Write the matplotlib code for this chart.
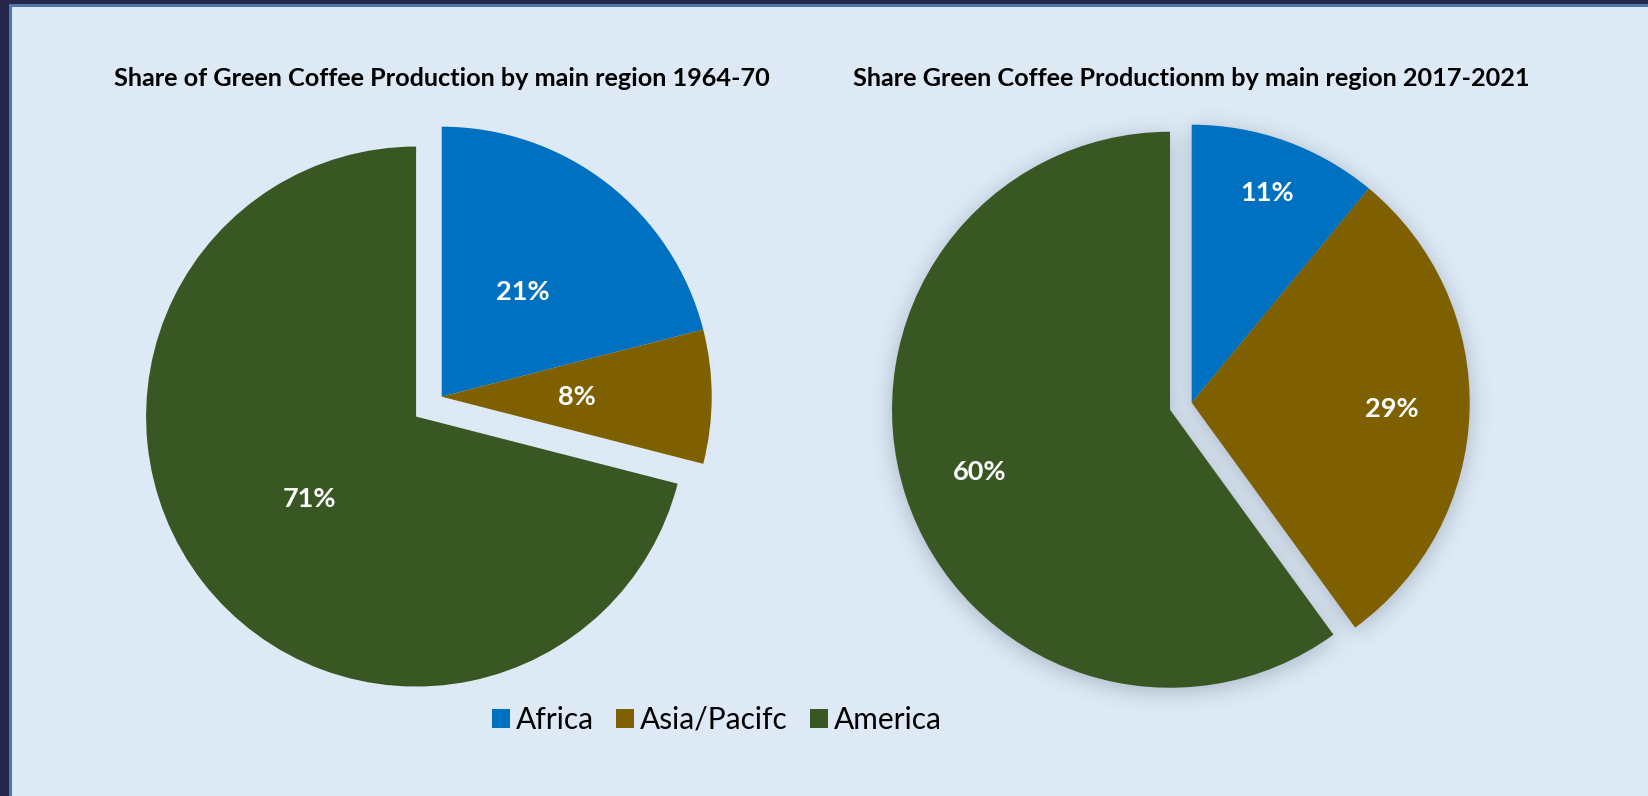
import numpy as np
import matplotlib.pyplot as plt
from matplotlib.patches import Patch, Rectangle

regions = ['Africa', 'Asia/Pacifc', 'America']
colors = ['#0070C0', '#7F6000', '#385723']

share_1964 = [21, 8, 71]
share_2017 = [11, 29, 60]

title_1964 = 'Share of Green Coffee Production by main region 1964-70'
title_2017 = 'Share Green Coffee Productionm by main region 2017-2021'

W, H = 1649, 796
bg = '#DDE9F5'

plt.rcParams['font.family'] = ['Lato', 'DejaVu Sans']

fig = plt.figure(figsize=(W / 100, H / 100), dpi=100)
fig.patch.set_facecolor(bg)

# full-figure axes in pixel units for the frame and the drop shadow
back = fig.add_axes([0, 0, 1, 1], zorder=-1)
back.set_xlim(0, W)
back.set_ylim(0, H)
back.axis('off')
back.add_patch(Rectangle((0, 0), 9, H, color='#25264A', lw=0))
back.add_patch(Rectangle((0, H - 4), W, 4, color='#25264A', lw=0))
back.add_patch(Rectangle((9, 0), 3, H - 4, color='#4B79AD', lw=0))
back.add_patch(Rectangle((9, H - 7), W - 9, 3, color='#4B79AD', lw=0))


def pie_axes(cx, cy, r):
    # square axes so that one data unit equals r pixels
    side = 2.4 * r
    ax = fig.add_axes([(cx - side / 2) / W, (H - cy - side / 2) / H, side / W, side / H])
    return ax


def draw_pie(ax, values, explode_last, label_dist):
    wedges, _ = ax.pie(values, colors=colors, startangle=90, counterclock=False,
                       explode=[0, 0, explode_last], radius=1,
                       wedgeprops=dict(linewidth=0))
    ax.set_xlim(-1.2, 1.2)
    ax.set_ylim(-1.2, 1.2)
    ax.set_aspect('equal')
    for w, v, d in zip(wedges, values, label_dist):
        t = np.deg2rad((w.theta1 + w.theta2) / 2)
        x = w.center[0] + d * w.r * np.cos(t)
        y = w.center[1] + d * w.r * np.sin(t)
        ax.text(x, y, f'{v}%', ha='center', va='center', color='white',
                fontsize=19.5, fontweight='bold')
    return wedges


ax1 = pie_axes(441.7, 396.7, 270)
draw_pie(ax1, share_1964, 0.12, [0.49, 0.50, 0.50])

ax2 = pie_axes(1191.7, 402.7, 278)
wedges2 = draw_pie(ax2, share_2017, 0.082, [0.80, 0.72, 0.72])

for ax, title in [(ax1, title_1964), (ax2, title_2017)]:
    pos = ax.get_position()
    fig.text(pos.x0 + pos.width / 2, 1 - 79 / H, title, ha='center', va='center',
             fontsize=18.2, fontweight='bold', color='black')

# soft shadow under the second pie
ax2.apply_aspect()
yy, xx = np.mgrid[0:H, 0:W]
pts = np.column_stack([xx.ravel() + 0.5, yy.ravel() + 0.5])
mask = np.zeros(H * W, dtype=float)
for w in wedges2:
    path = w.get_transform().transform_path(w.get_path())
    mask = np.maximum(mask, path.contains_points(pts).astype(float))
mask = mask.reshape(H, W)

sigma = 11
k = np.arange(-3 * sigma, 3 * sigma + 1)
kern = np.exp(-k ** 2 / (2 * sigma ** 2))
kern /= kern.sum()
blur = np.apply_along_axis(lambda m: np.convolve(m, kern, mode='same'), 1, mask)
blur = np.apply_along_axis(lambda m: np.convolve(m, kern, mode='same'), 0, blur)
blur = np.roll(blur, -4, axis=0)

shadow = np.zeros((H, W, 4))
shadow[..., 0] = 0.12
shadow[..., 1] = 0.17
shadow[..., 2] = 0.25
shadow[..., 3] = 0.27 * blur
back.imshow(shadow, extent=(0, W, 0, H), origin='lower', interpolation='bilinear',
            zorder=1, aspect='auto')
back.set_xlim(0, W)
back.set_ylim(0, H)

handles = [Patch(facecolor=c, edgecolor='none', label=r) for c, r in zip(colors, regions)]
fig.legend(handles=handles, loc='center', bbox_to_anchor=(717 / W, 1 - 720 / H),
           ncol=3, frameon=False, fontsize=21.5, handlelength=0.6, handleheight=0.6,
           handletextpad=0.2, columnspacing=0.75)

fig.savefig('out.png', dpi=100, facecolor=bg)
